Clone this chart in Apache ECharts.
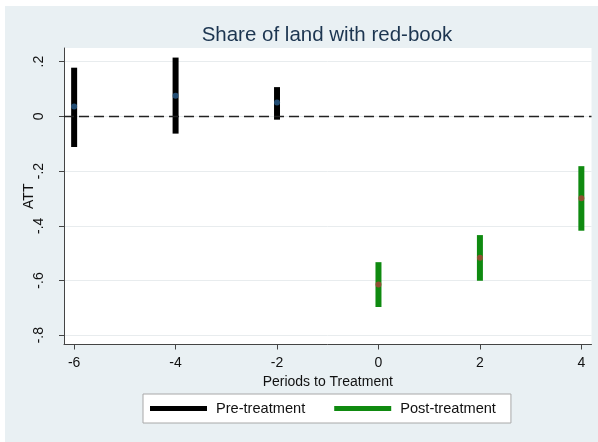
<!DOCTYPE html>
<html>
<head>
<meta charset="utf-8">
<script src="https://cdn.jsdelivr.net/npm/echarts@6.0.0/dist/echarts.min.js"></script>
<style>
    html, body { margin: 0; padding: 0; background: #ffffff; }
    #chart { position: absolute; left: 5px; top: 6px; width: 593px; height: 436px; }
</style>
</head>
<body>
<div id="chart"></div>
<script>
// periods relative to treatment, point estimate and 95% CI bounds
var periods = [-6, -4, -2, 0, 2, 4];
var att = [0.036, 0.075, 0.051, -0.615, -0.517, -0.299];
var ciLow = [-0.112, -0.063, -0.012, -0.697, -0.601, -0.418];
var ciHigh = [0.178, 0.215, 0.107, -0.533, -0.434, -0.182];
var xTicks = [-6, -4, -2, 0, 2, 4];
var yTicks = [-0.8, -0.6, -0.4, -0.2, 0, 0.2];

var font = "Liberation Sans, Arial, sans-serif";

function pick(pre, field) {
    var out = [];
    for (var i = 0; i < periods.length; i++) {
        if ((periods[i] < 0) === pre) out.push(field(i));
    }
    return out;
}
var preCI = pick(true, i => [periods[i], ciLow[i], ciHigh[i]]);
var postCI = pick(false, i => [periods[i], ciLow[i], ciHigh[i]]);
var prePts = pick(true, i => [periods[i], att[i]]);
var postPts = pick(false, i => [periods[i], att[i]]);

function renderCI(params, api) {
    var top = api.coord([api.value(0), api.value(2)]);
    var bot = api.coord([api.value(0), api.value(1)]);
    var w = 6;
    return {
        type: "rect",
        shape: { x: top[0] - w / 2, y: top[1], width: w, height: bot[1] - top[1] },
        style: api.style()
    };
}

function yFmt(v) {
    var r = Math.round(v * 10) / 10;
    if (r === 0) return "0";
    return String(r).replace("0.", ".");
}

var myChart = echarts.init(document.getElementById("chart"));
myChart.setOption({
    backgroundColor: "#e9f0f3",
    textStyle: { fontFamily: font },
    title: {
        text: "Share of land with red-book",
        left: 317,
        textAlign: "center",
        top: 14,
        textStyle: { color: "#1c3550", fontSize: 20.5, fontWeight: "normal", fontFamily: font }
    },
    legend: {
        data: ["Pre-treatment", "Post-treatment"],
        left: 138,
        top: 388,
        icon: "rect",
        itemWidth: 57,
        itemHeight: 5,
        itemGap: 29,
        padding: [7, 15, 7, 7],
        backgroundColor: "#ffffff",
        borderColor: "#a8a8a8",
        borderWidth: 1,
        textStyle: { color: "#111", fontSize: 14.6, fontFamily: font, padding: [0, 0, 0, 4] }
    },
    grid: {
        left: 59,
        right: 6.5,
        top: 42,
        bottom: 97.5,
        show: true,
        backgroundColor: "#ffffff",
        borderWidth: 0
    },
    xAxis: {
        type: "value",
        min: -6.2,
        max: 4.2,
        name: "Periods to Treatment",
        nameLocation: "middle",
        nameGap: 23,
        nameTextStyle: { color: "#111", fontSize: 14, fontFamily: font },
        axisLine: { onZero: false, lineStyle: { color: "#444", width: 1 } },
        axisTick: { show: true, length: 5, customValues: xTicks, lineStyle: { color: "#444" } },
        axisLabel: { customValues: xTicks, color: "#111", fontSize: 14, margin: 12 },
        splitLine: { show: false }
    },
    yAxis: {
        type: "value",
        min: -0.834,
        max: 0.25,
        name: "ATT",
        nameLocation: "middle",
        nameGap: 28,
        nameMoveOverlap: false,
        nameRotate: 90,
        nameTextStyle: { color: "#111", fontSize: 14, fontFamily: font },
        axisLine: { show: true, onZero: false, lineStyle: { color: "#444", width: 1 } },
        axisTick: { show: true, length: 5, customValues: yTicks, lineStyle: { color: "#444" } },
        axisLabel: { customValues: yTicks, rotate: 90, color: "#111", fontSize: 14, margin: 18, formatter: yFmt },
        splitLine: { show: true, lineStyle: { color: "#e8ecee", width: 1 } }
    },
    series: [
        {
            type: "custom",
            name: "Pre-treatment",
            renderItem: renderCI,
            itemStyle: { color: "#000000" },
            encode: { x: 0, y: [1, 2] },
            data: preCI,
            z: 2,
            markLine: {
                silent: true,
                symbol: "none",
                label: { show: false },
                lineStyle: { color: "#222", width: 1.4, type: [10, 5] },
                data: [{ yAxis: 0 }]
            }
        },
        {
            type: "custom",
            name: "Post-treatment",
            renderItem: renderCI,
            itemStyle: { color: "#0f8a10" },
            encode: { x: 0, y: [1, 2] },
            data: postCI,
            z: 2
        },
        {
            type: "scatter",
            name: "pre-point",
            symbolSize: 6,
            itemStyle: { color: "#2b5f8e" },
            data: prePts,
            z: 3
        },
        {
            type: "scatter",
            name: "post-point",
            symbolSize: 6,
            itemStyle: { color: "#b0413b" },
            data: postPts,
            z: 3
        }
    ]
});
</script>
</body>
</html>
